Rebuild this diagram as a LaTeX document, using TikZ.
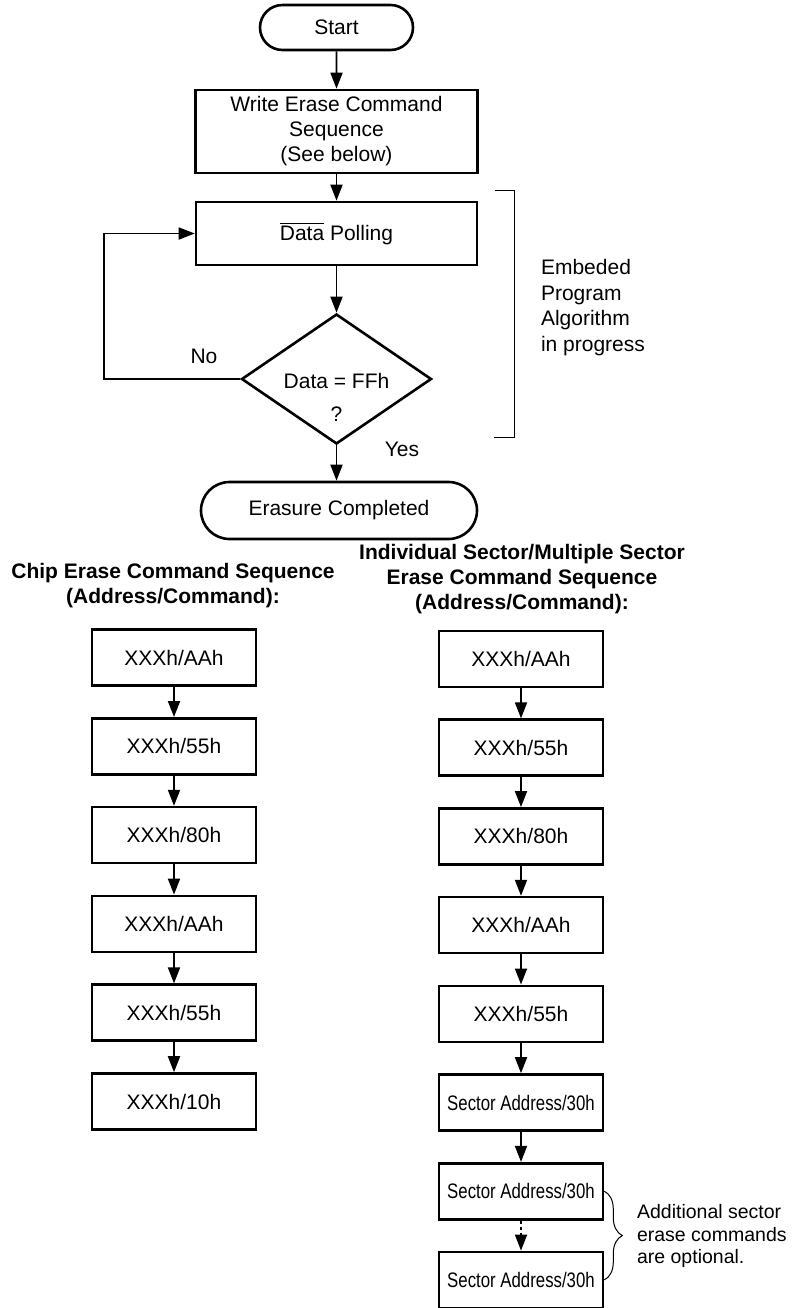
\documentclass[tikz,border=0pt]{standalone}
\usepackage{fontspec}
\setmainfont{Liberation Sans}
\newfontfamily\narrowfont[FakeStretch=0.8]{Liberation Sans}
\usetikzlibrary{arrows.meta}
\usetikzlibrary{shapes.geometric}
\usetikzlibrary{shapes.misc}
\usetikzlibrary{decorations.pathreplacing}
\tikzset{
      txt/.style={font=\fontsize{10.5pt}{12.5pt}\selectfont},
      term/.style={txt, draw, rounded rectangle, line width=1.3pt, inner sep=0pt},
      proc/.style={txt, draw, rectangle, line width=1.3pt, align=center, inner sep=0pt},
      cmd/.style={proc, minimum width=82pt, minimum height=28pt},
      sect/.style={cmd, font=\narrowfont\fontsize{10.5pt}{12.5pt}\selectfont},
      decision/.style={draw, diamond, line width=1.3pt, minimum width=95pt, minimum height=65pt, inner sep=0pt},
      flow/.style={draw, line width=0.9pt, -{Triangle[length=8pt,width=6pt]}},
      head/.style={font=\bfseries\fontsize{10.5pt}{12.3pt}\selectfont, align=center},
}

\begin{document}
\begin{tikzpicture}[x=0.5pt, y=-0.5pt]
        \useasboundingbox (0,0) rectangle (795,1308);

        % Erase algorithm
        \node[term, minimum width=76.5pt, minimum height=22.5pt] (start) at (336.5,27.5) {Start};
        \node[proc, minimum width=141pt, minimum height=41.5pt] (write) at (336.5,131.5) {Write Erase Command\\Sequence\\(See below)};
        \node[proc, minimum width=140.5pt, minimum height=31.5pt] (poll) at (336.5,233.5) {$\overline{\hbox{Data}}$ Polling};
        \node[decision] (check) at (336.5,379) {};
        \node[txt, align=center] (checktext) at (336.5,397) {Data = FFh\\[4pt]?};
        \node[term, minimum width=138pt, minimum height=28.5pt] (done) at (339,510.5) {Erasure Completed};

        \draw[flow] (start) -- (write);
        \draw[flow] (write) -- (poll);
        \draw[flow] (poll) -- (check);
        \draw[flow] (check.south) -- (check.south |- done.north);
        \draw[flow] (check.west) -- ++(-136,0) |- (poll.west);
        \node[txt] (no) at (204,356) {No};
        \node[txt] (yes) at (402,449) {Yes};

        % Bracket on the right
        \draw[line width=0.5pt] (495,190) -- (514,190) -- (514,437) -- (494,437);
        \node[font=\fontsize{10.5pt}{12.8pt}\selectfont, align=left, anchor=west] (embed) at (534,307.5) {Embeded\\Program\\Algorithm\\in progress};

        % Chip erase sequence
        \node[head] (chiphead) at (173,585.5) {Chip Erase Command Sequence\\(Address/Command):};
        \node[cmd] (c1) at (174,657.5) {XXXh/AAh};
        \node[cmd] (c2) at (174,746.3) {XXXh/55h};
        \node[cmd] (c3) at (174,835.1) {XXXh/80h};
        \node[cmd] (c4) at (174,923.9) {XXXh/AAh};
        \node[cmd] (c5) at (174,1012.7) {XXXh/55h};
        \node[cmd] (c6) at (174,1101.5) {XXXh/10h};
        \draw[flow] (c1) -- (c2);
        \draw[flow] (c2) -- (c3);
        \draw[flow] (c3) -- (c4);
        \draw[flow] (c4) -- (c5);
        \draw[flow] (c5) -- (c6);

        % Sector erase sequence
        \node[head] (secthead) at (522,579) {Individual Sector/Multiple Sector\\Erase Command Sequence\\(Address/Command):};
        \node[cmd] (s1) at (521,659) {XXXh/AAh};
        \node[cmd] (s2) at (521,747.7) {XXXh/55h};
        \node[cmd] (s3) at (521,836.4) {XXXh/80h};
        \node[cmd] (s4) at (521,925.1) {XXXh/AAh};
        \node[cmd] (s5) at (521,1013.8) {XXXh/55h};
        \node[sect] (s6) at (521,1102.5) {Sector Address/30h};
        \node[sect] (s7) at (521,1191.2) {Sector Address/30h};
        \node[sect] (s8) at (521,1279.9) {Sector Address/30h};
        \draw[flow] (s1) -- (s2);
        \draw[flow] (s2) -- (s3);
        \draw[flow] (s3) -- (s4);
        \draw[flow] (s4) -- (s5);
        \draw[flow] (s5) -- (s6);
        \draw[flow] (s6) -- (s7);
        \draw[flow, dash pattern=on 1.5pt off 1.5pt] (s7) -- (s8);

        \draw[line width=0.5pt, decorate, decoration={brace, amplitude=9pt}] (s7.east) -- (s8.east);
        \node[font=\fontsize{9.75pt}{11.25pt}\selectfont, align=left, anchor=west] (optional) at (630,1236) {Additional sector\\erase commands\\are optional.};

    \end{tikzpicture}
\end{document}
